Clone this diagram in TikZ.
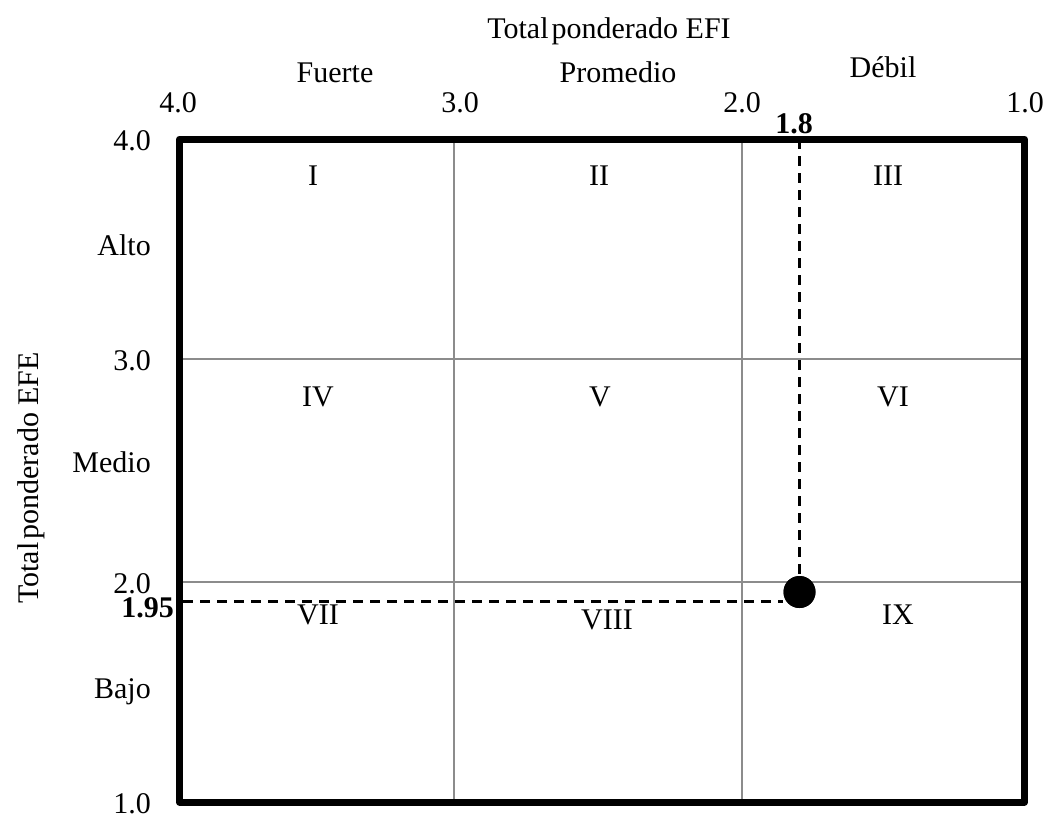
\documentclass[tikz,border=0pt]{standalone}
\usepackage{fontspec}
\usetikzlibrary{calc}
\setmainfont{Liberation Serif}
\definecolor{gridgray}{RGB}{140,140,140}
\newcommand{\tightsp}{\hspace{3pt}}
\begin{document}
\begin{tikzpicture}[x=1pt,y=-1pt,
  lbl/.style={font=\fontsize{30}{36}\selectfont, inner sep=0pt, anchor=base},
  blbl/.style={inner sep=0pt, anchor=base, font=\fontsize{30}{36}\selectfont\bfseries},
  gridline/.style={draw=gridgray, line width=2pt},
  frameline/.style={draw=black, line width=7pt, line join=round},
  guide/.style={draw=black, dash pattern=on 10pt off 7pt, line width=2.2pt},
  marker/.style={circle, fill=black, minimum size=32pt, inner sep=0pt}]
\useasboundingbox (0,0) rectangle (1048,816);

% frame corners
\coordinate (TL) at (179.5,139);
\coordinate (TR) at (1024.5,139);
\coordinate (BL) at (179.5,802);
\coordinate (BR) at (1024.5,802);

% inner grid
\coordinate (v1t) at (454,139);
\coordinate (v1b) at (454,802);
\coordinate (v2t) at (742,139);
\coordinate (v2b) at (742,802);
\coordinate (h1l) at (179.5,359);
\coordinate (h1r) at (1024.5,359);
\coordinate (h2l) at (179.5,582);
\coordinate (h2r) at (1024.5,582);
\draw[gridline] (v1t) -- (v1b);
\draw[gridline] ($(v2t)+(9,0)$) -- (v2t) -- (v2b) -- ($(v2b)+(9,0)$);
\draw[gridline] (h1l) -- (h1r);
\draw[gridline] (h2l) -- (h2r);

% position of the company
\node[marker] (pt) at (799.5,592) {};
\coordinate (xtop) at (799.5,139);
\coordinate (yleft) at (183,601.5);
\draw[guide] (xtop) -- (pt.north);
\draw[guide] (yleft) -- (yleft -| pt.west);
\node[marker] at (pt) {};

% outer frame
\draw[frameline] (TL) -- (TR) -- (BR) -- (BL) -- cycle;

% top axis
\node[lbl] (title) at (609,38) {Total\tightsp ponderado EFI};
\node[lbl] (fuerte) at (335,82) {Fuerte};
\node[lbl] (promedio) at (618,82) {Promedio};
\node[lbl] (debil) at (883,77) {Débil};
\node[lbl] (x4) at (178,112) {4.0};
\node[lbl] (x3) at (460,112) {3.0};
\node[lbl] (x2) at (742,112) {2.0};
\node[lbl] (x1) at (1025,112) {1.0};
\node[blbl] (xval) at (794,133) {1.8};

% left axis
\node[lbl, anchor=base, rotate=90] (ytitle) at (38,478) {Total\tightsp ponderado EFE};
\node[lbl, anchor=base east] (y4) at (151,150) {4.0};
\node[lbl, anchor=base east] (y3) at (151,370) {3.0};
\node[lbl, anchor=base east] (y2) at (151,593) {2.0};
\node[lbl, anchor=base east] (y1) at (151,813) {1.0};
\node[lbl, anchor=base east] (alto) at (151,255) {Alto};
\node[lbl, anchor=base east] (medio) at (151,472) {Medio};
\node[lbl, anchor=base east] (bajo) at (151,698) {Bajo};
\node[blbl, anchor=base east] (yval) at (174,617) {1.95};

% cell numerals
\node[lbl] (c1) at (313,185) {I};
\node[lbl] (c2) at (599,185) {II};
\node[lbl] (c3) at (888,185) {III};
\node[lbl] (c4) at (318,406) {IV};
\node[lbl] (c5) at (600,406) {V};
\node[lbl] (c6) at (893,406) {VI};
\node[lbl] (c7) at (318,624) {VII};
\node[lbl] (c8) at (607,629) {VIII};
\node[lbl] (c9) at (898,624) {IX};
\end{tikzpicture}
\end{document}
